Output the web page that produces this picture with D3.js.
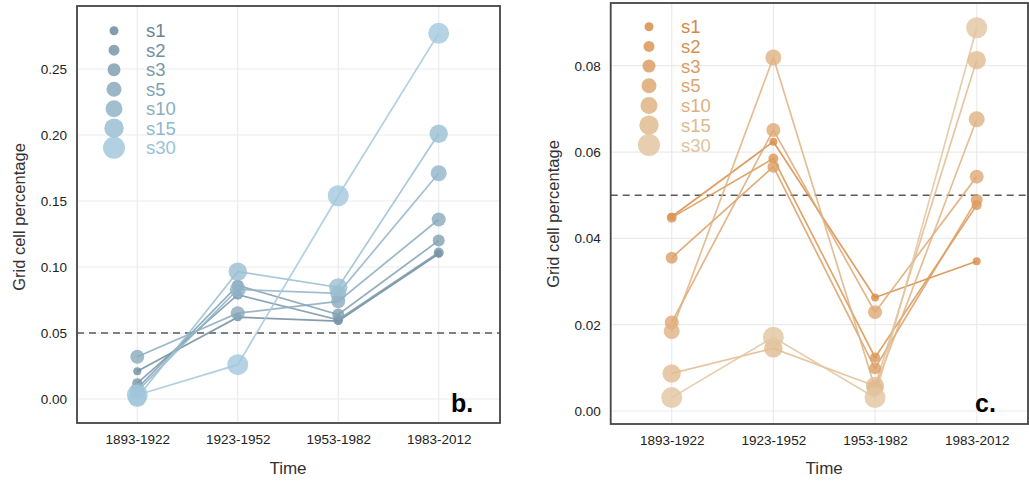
<!DOCTYPE html>
<html>
<head>
<meta charset="utf-8">
<script src="https://cdn.jsdelivr.net/npm/d3@7"></script>
<style>
  body { margin: 0; background: #fff; }
  svg text { font-family: "Liberation Sans", Arial, sans-serif; }
</style>
</head>
<body>
<svg id="chart" width="1029" height="482"></svg>
<script>
// time windows and smoothing series
var periods = ["1893-1922", "1923-1952", "1953-1982", "1983-2012"];
var series = ["s1", "s2", "s3", "s5", "s10", "s15", "s30"];

// panel b. values, one row per series (same order as above)
var valuesB = [
    [0.021, 0.062, 0.059, 0.110],
    [0.012, 0.079, 0.060, 0.111],
    [0.008, 0.086, 0.064, 0.120],
    [0.032, 0.065, 0.074, 0.136],
    [0.006, 0.083, 0.080, 0.171],
    [0.001, 0.0965, 0.0846, 0.201],
    [0.003, 0.026, 0.154, 0.277]
];
var ticksB = [0, 0.05, 0.10, 0.15, 0.20, 0.25];

// panel c. values
var valuesC = [
    [0.0450, 0.0624, 0.0263, 0.0347],
    [0.0448, 0.0585, 0.0124, 0.0477],
    [0.0355, 0.0566, 0.0099, 0.0489],
    [0.0205, 0.0651, 0.0229, 0.0543],
    [0.0185, 0.0819, 0.0053, 0.0676],
    [0.0087, 0.0145, 0.0058, 0.0813],
    [0.0031, 0.0171, 0.0031, 0.0888]
];
var ticksC = [0, 0.02, 0.04, 0.06, 0.08];

var threshold = 0.05;

var svg = d3.select("#chart");
var radius = d3.scaleOrdinal().domain(series).range([4, 5, 6, 7, 8, 9.2, 10.5]);

function drawPanel(cfg) {
    var g = svg.append("g");
    var x = d3.scalePoint().domain(periods).range(cfg.xRange);
    var y = d3.scaleLinear().domain(cfg.yDomain).range(cfg.yRange);
    var color = d3.scaleOrdinal().domain(series)
        .range(d3.quantize(d3.interpolateRgb(cfg.dark, cfg.light), series.length));
    var textColor = d3.scaleOrdinal().domain(series)
        .range(d3.quantize(d3.interpolateRgb(cfg.textDark, cfg.textLight), series.length));

    // grid
    g.append("g").selectAll("line").data(cfg.ticks).join("line")
        .attr("x1", cfg.frame[0]).attr("x2", cfg.frame[1])
        .attr("y1", function (d) { return y(d); }).attr("y2", function (d) { return y(d); })
        .attr("stroke", "#ebebeb").attr("stroke-width", 1.2);
    g.append("g").selectAll("line").data(periods).join("line")
        .attr("x1", function (d) { return x(d); }).attr("x2", function (d) { return x(d); })
        .attr("y1", cfg.frame[2]).attr("y2", cfg.frame[3])
        .attr("stroke", "#ebebeb").attr("stroke-width", 1.2);

    // threshold
    g.append("line")
        .attr("x1", cfg.frame[0]).attr("x2", cfg.frame[1])
        .attr("y1", y(threshold)).attr("y2", y(threshold))
        .attr("stroke", "#5a5a5a").attr("stroke-width", 1.6)
        .attr("stroke-dasharray", "7,5");

    var rows = series.map(function (s, i) {
        return { name: s, pts: cfg.values[i].map(function (v, j) { return { p: periods[j], v: v }; }) };
    });
    var line = d3.line().x(function (d) { return x(d.p); }).y(function (d) { return y(d.v); });

    g.append("g").selectAll("path").data(rows).join("path")
        .attr("d", function (d) { return line(d.pts); })
        .attr("fill", "none")
        .attr("stroke", function (d) { return color(d.name); })
        .attr("stroke-opacity", 0.85)
        .attr("stroke-width", 1.7);

    rows.forEach(function (r) {
        g.append("g").selectAll("circle").data(r.pts).join("circle")
            .attr("cx", function (d) { return x(d.p); })
            .attr("cy", function (d) { return y(d.v); })
            .attr("r", radius(r.name))
            .attr("fill", color(r.name))
            .attr("fill-opacity", 0.8);
    });

    // frame
    g.append("rect")
        .attr("x", cfg.frame[0]).attr("y", cfg.frame[2])
        .attr("width", cfg.frame[1] - cfg.frame[0]).attr("height", cfg.frame[3] - cfg.frame[2])
        .attr("fill", "none").attr("stroke", "#444").attr("stroke-width", 1.8);

    // axes
    var ax = g.append("g").attr("transform", "translate(0," + cfg.frame[3] + ")")
        .call(d3.axisBottom(x).tickSize(0).tickPadding(11));
    ax.select(".domain").remove();
    ax.selectAll("text").attr("font-size", 13.5).attr("fill", "#222");

    var ay = g.append("g").attr("transform", "translate(" + cfg.frame[0] + ",0)")
        .call(d3.axisLeft(y).tickValues(cfg.ticks).tickFormat(d3.format(".2f")).tickSize(0).tickPadding(10));
    ay.select(".domain").remove();
    ay.selectAll("text").attr("font-size", 13.5).attr("fill", "#222");

    g.append("text")
        .attr("x", (cfg.xRange[0] + cfg.xRange[1]) / 2).attr("y", 474)
        .attr("text-anchor", "middle").attr("font-size", 17).attr("fill", "#333")
        .text("Time");
    g.append("text")
        .attr("transform", "translate(" + cfg.yTitleX + "," + cfg.yTitleY + ") rotate(-90)")
        .attr("text-anchor", "middle").attr("dy", "0.35em")
        .attr("font-size", 16.5).attr("fill", "#333")
        .text("Grid cell percentage");

    // legend
    var leg = g.append("g").selectAll("g").data(series).join("g")
        .attr("transform", function (d, i) { return "translate(" + cfg.legX + "," + (cfg.legY + i * cfg.legStep) + ")"; });
    leg.append("circle")
        .attr("r", function (d) { return radius(d) + 0.5; })
        .attr("fill", function (d) { return color(d); })
        .attr("fill-opacity", 0.85);
    leg.append("text")
        .attr("x", cfg.legTextDx).attr("dy", "0.36em")
        .attr("font-size", 18.5)
        .attr("fill", function (d) { return textColor(d); })
        .text(function (d) { return d; });

    // panel tag
    g.append("text")
        .attr("x", cfg.tagX).attr("y", 412)
        .attr("font-size", 25).attr("font-weight", "bold").attr("fill", "#000")
        .text(cfg.tag);
}

drawPanel({
    values: valuesB, ticks: ticksB,
    xRange: [137.3, 438.7], yDomain: [0, 0.25], yRange: [399, 69],
    frame: [77, 500, 6, 423],
    dark: "#6f8c9d", light: "#a3c8dd", textDark: "#6a8494", textLight: "#98c2d8",
    yTitleX: 19, yTitleY: 217,
    legX: 114, legY: 30.7, legStep: 19.5, legTextDx: 32,
    tag: "b.", tagX: 451
});

drawPanel({
    values: valuesC, ticks: ticksC,
    xRange: [671.7, 976.7], yDomain: [0, 0.08], yRange: [411, 65.7],
    frame: [610.7, 1028, 3, 424],
    dark: "#d98c47", light: "#e2c6a0", textDark: "#d4883f", textLight: "#e0c39c",
    yTitleX: 553, yTitleY: 214,
    legX: 649, legY: 26.7, legStep: 19.7, legTextDx: 32,
    tag: "c.", tagX: 975
});
</script>
</body>
</html>
